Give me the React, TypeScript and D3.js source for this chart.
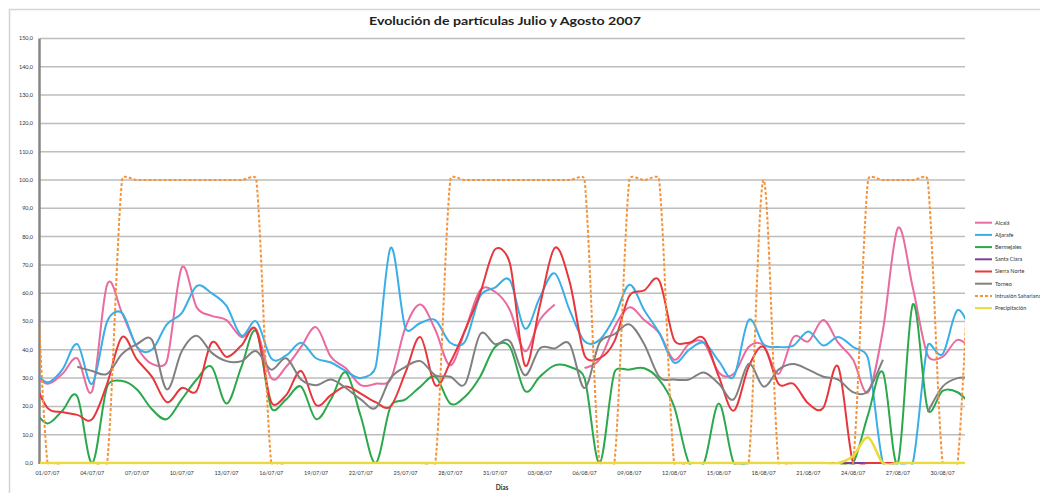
import React from 'react';
import * as d3 from 'd3';

// Daily values from 30/06/07 to 01/09/07 (64 days; first and last days fall just outside the visible axis)
const alcala: (number | null)[] = [
  32, 28, 31.5, 37, 25.5, 63, 53, 41, 35, 36, 69, 55, 52, 50.5, 44.5, 47,
  30, 34, 41, 48, 37.5, 33.5, 27.5, 28, 29.5, 48, 56, 47, 34.5, 47, 61, 60.5,
  54, 39.5, 50.5, 56, null, 33.5, 36.5, 48, 55, 50.5, 46, 36.5, 42, 42.5, 32, 31.5,
  41, 41.5, 31.5, 44.5, 43, 50.5, 42.5, 36.5, 25, 47, 83, 62, 38, 37.5, 43.5, 40,
];
const aljarafe: (number | null)[] = [
  33, 28.5, 33, 42, 28, 50, 53, 41, 40, 49, 53, 62.5, 60, 55.5, 45, 50,
  37, 38, 42.5, 37, 35.5, 32.5, 30, 34, 76, 47.5, 49.5, 50.5, 42.5, 43, 59, 62,
  64.5, 47.5, 58.5, 67, 54, 43, 43.5, 51.5, 63, 54, 46, 35.5, 40, 42.5, 36, 30.5,
  50.5, 42, 41, 41.5, 46.5, 41.5, 44.5, 41, 37, 0, 0, 0, 41.5, 38.5, 54, 45,
];
const bermejales: (number | null)[] = [
  19, 14, 18.5, 23.5, 0, 27, 29, 26, 19, 15.5, 22.5, 29.5, 34, 21, 34, 46.5,
  19.5, 22.5, 27, 15.5, 22.5, 32, 16.5, 0, 20, 22.5, 27, 30.5, 21, 23.5, 30.5, 41,
  41, 25.5, 30.5, 34.5, 34, 30, 0, 32, 33, 33.5, 29.5, 20, 0, 0, 21, 0,
  0, 0, 0, 0, 0, 0, 0, 0, 17, 32, 0, 56, 19, 25.5, 25, 20,
];
const santaClara: (number | null)[] = [
  null, null, null, null, null, null, null, null, null, null, null, null, null, null, null, null,
  null, null, null, null, null, null, null, null, null, null, null, null, null, null, null, null,
  null, null, null, null, null, null, null, null, null, null, null, null, null, null, null, null,
  null, null, null, 0, 0, 0, 0, 0, 0, 0, 0, 0, null, null, null, null,
];
const sierraNorte: (number | null)[] = [
  30, 19.5, 18, 17, 15.5, 28, 44.5, 36.5, 30.5, 21.5, 26.5, 25.5, 42.5, 37.5, 41.5, 47,
  21.5, 24, 32.5, 20.5, 24, 27, 24.5, 21.5, 20, 32, 44.5, 27.5, 35.5, 47, 60, 75.5,
  70.5, 34.5, 55.5, 76, 64, 38, 37, 43, 59, 61, 64.5, 43.5, 42.5, 44, 30.5, 18.5,
  34, 41, 28, 28, 21, 19.5, 34, 0, 0, 0, 0, null, null, null, null, null,
];
const torneo: (number | null)[] = [
  null, null, null, 34, 32.5, 31.5, 38.5, 42, 43.5, 26, 39.5, 45, 39, 36, 36, 39.5,
  33, 37, 29.5, 27.5, 29.5, 26.5, 22.5, 19.5, 30, 34, 36, 31, 30.5, 28, 45.5, 42,
  43, 31, 40.5, 40.5, 42, 26.5, 42.5, 45.5, 49, 42, 30.5, 29.5, 29.5, 32, 28, 22.5,
  35, 27, 33, 35, 33, 30.5, 29.5, 25, 25.5, 36.5, null, null, 18, 27, 30, 30,
];
const intrusion: (number | null)[] = [
  100, 0, 0, 0, 0, 0, 100, 100, 100, 100, 100, 100, 100, 100, 100, 100,
  0, 0, 0, 0, 0, 0, 0, 0, 0, 0, 0, 0, 100, 100, 100, 100,
  100, 100, 100, 100, 100, 100, 0, 0, 100, 100, 100, 0, 0, 0, 0, 0,
  0, 100, 0, 0, 0, 0, 0, 0, 100, 100, 100, 100, 100, 0, 0, 100,
];
const precipitacion: (number | null)[] = [
  0, 0, 0, 0, 0, 0, 0, 0, 0, 0, 0, 0, 0, 0, 0, 0,
  0, 0, 0, 0, 0, 0, 0, 0, 0, 0, 0, 0, 0, 0, 0, 0,
  0, 0, 0, 0, 0, 0, 0, 0, 0, 0, 0, 0, 0, 0, 0, 0,
  0, 0, 0, 0, 0, 0, 0, 2.5, 9, 0, 0, 0, 0, 0, 0, 0,
];

const seriesNames = [
  'Alcalá', 'Aljarafe', 'Bermejales', 'Santa Clara', 'Sierra Norte', 'Torneo',
  'Intrusión Sahariana', 'Precipitación',
];
const seriesValues = [alcala, aljarafe, bermejales, santaClara, sierraNorte, torneo, intrusion, precipitacion];
const seriesColors = ['#ea6b9f', '#3aaee6', '#2ca84c', '#7b3fa0', '#e8373c', '#808080', '#f5933a', '#ebdb3a'];
const seriesDash = [null, null, null, null, null, null, '3,2', null];

const xTickLabels = [
  '01/07/07', '04/07/07', '07/07/07', '10/07/07', '13/07/07', '16/07/07', '19/07/07',
  '22/07/07', '25/07/07', '28/07/07', '31/07/07', '03/08/07', '06/08/07', '09/08/07',
  '12/08/07', '15/08/07', '18/08/07', '21/08/07', '24/08/07', '27/08/07', '30/08/07',
];
const yTicks = [0, 10, 20, 30, 40, 50, 60, 70, 80, 90, 100, 110, 120, 130, 140, 150];

const FONT = "Lato, 'Open Sans', 'Liberation Sans', sans-serif";

// Spreadsheet-style smoothing: Bezier segments whose tangents come from the neighbours,
// shortened when a neighbouring chord is much longer than the segment itself.
function smoothCurve(context: any) {
  let pts: [number, number][] = [];
  return {
    areaStart() {},
    areaEnd() {},
    lineStart() {
      pts = [];
    },
    point(px: number, py: number) {
      pts.push([+px, +py]);
    },
    lineEnd() {
      const n = pts.length;
      if (!n) return;
      context.moveTo(pts[0][0], pts[0][1]);
      for (let i = 0; i < n - 1; i++) {
        const p0 = pts[i - 1] || pts[i];
        const p1 = pts[i];
        const p2 = pts[i + 1];
        const p3 = pts[i + 2] || pts[i + 1];
        const seg = Math.hypot(p2[0] - p1[0], p2[1] - p1[1]);
        const d1x = p2[0] - p0[0], d1y = p2[1] - p0[1];
        const d2x = p3[0] - p1[0], d2y = p3[1] - p1[1];
        const l1 = Math.hypot(d1x, d1y) || 1;
        const l2 = Math.hypot(d2x, d2y) || 1;
        const f1 = Math.min(1 / 6, (0.5 * seg) / l1);
        const f2 = Math.min(1 / 6, (0.5 * seg) / l2);
        context.bezierCurveTo(
          p1[0] + d1x * f1, p1[1] + d1y * f1,
          p2[0] - d2x * f2, p2[1] - d2y * f2,
          p2[0], p2[1]
        );
      }
    },
  };
}

export default function App() {
  const W = 1040;
  const H = 493;
  const left = 40, right = 965, top = 38.5, bottom = 463;

  const dates = d3.utcDay.range(new Date(Date.UTC(2007, 5, 30)), new Date(Date.UTC(2007, 8, 2)));
  const x = d3
    .scaleUtc()
    .domain([new Date(Date.UTC(2007, 5, 30, 12)), new Date(Date.UTC(2007, 7, 31, 12))])
    .range([left, right]);
  const y = d3.scaleLinear().domain([0, 150]).range([bottom, top]);
  const parse = d3.utcParse('%d/%m/%y');
  const fmtY = (v: number) => d3.format('.1f')(v).replace('.', ',');

  const line = d3
    .line<number | null>()
    .defined((v) => v != null)
    .x((_, i) => x(dates[i]))
    .y((v) => y(v as number))
    .curve(smoothCurve as any);

  const legendX = 975;
  const legendY0 = 222.7;
  const legendStep = 12.2;

  return (
    <svg
      width={W}
      height={H}
      style={{ position: 'absolute', left: 0, top: 0, background: '#fff' }}
      fontFamily={FONT}
    >
      <defs>
        <clipPath id="plotClip">
          <rect x={left} y={top - 10} width={right - left} height={bottom - top + 11.5} />
        </clipPath>
      </defs>
      <rect x={9.5} y={9.5} width={1100} height={600} fill="#fff" stroke="#d4d4d4" strokeWidth={1.5} />

      <text
        x={505}
        y={25}
        textAnchor="middle"
        fontSize={12}
        fontWeight="bold"
        fill="#222"
        textLength={272}
        lengthAdjust="spacingAndGlyphs"
      >
        Evolución de partículas Julio y Agosto 2007
      </text>

      {yTicks.map((t) => (
        <g key={t}>
          {t > 0 && (
            <line x1={left} x2={right} y1={y(t)} y2={y(t)} stroke="#bdbdbd" strokeWidth={1.5} />
          )}
          <text x={33} y={y(t)} dy="0.35em" textAnchor="end" fontSize={5.5} fill="#333">
            {fmtY(t)}
          </text>
        </g>
      ))}

      <line x1={39.5} x2={39.5} y1={top} y2={bottom + 1} stroke="#868686" strokeWidth={2.5} />
      <line x1={left} x2={right} y1={bottom} y2={bottom} stroke="#9a9a9a" strokeWidth={1.5} />

      {xTickLabels.map((s) => (
        <text key={s} x={x(parse(s) as Date)} y={475} textAnchor="middle" fontSize={5.5} fill="#333">
          {s}
        </text>
      ))}
      <text x={502} y={490} textAnchor="middle" fontSize={6.5} fontWeight="bold" fill="#333">
        Días
      </text>

      <g clipPath="url(#plotClip)">
        {seriesValues.map((vals, k) => (
          <path
            key={seriesNames[k]}
            d={line(vals) || ''}
            fill="none"
            stroke={seriesColors[k]}
            strokeWidth={k === 7 ? 2.6 : 2}
            strokeDasharray={seriesDash[k] || undefined}
            strokeLinejoin="round"
          />
        ))}
      </g>

      {seriesNames.map((n, k) => {
        const ly = legendY0 + k * legendStep;
        return (
          <g key={n}>
            <line
              x1={legendX}
              x2={legendX + 17}
              y1={ly}
              y2={ly}
              stroke={seriesColors[k]}
              strokeWidth={2}
              strokeDasharray={seriesDash[k] || undefined}
            />
            <text x={legendX + 20} y={ly} dy="0.35em" fontSize={5.5} fill="#333">
              {n}
            </text>
          </g>
        );
      })}
    </svg>
  );
}
